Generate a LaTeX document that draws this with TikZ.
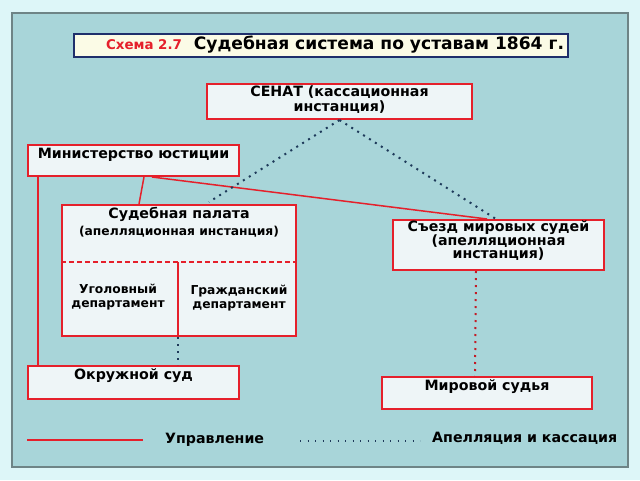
\documentclass[tikz,border=0pt]{standalone}
\usepackage{fontspec}
\setmainfont{DejaVu Sans}
\usetikzlibrary{calc}
\definecolor{outerbg}{HTML}{DDF6F8}
\definecolor{panel}{HTML}{A8D5D9}
\definecolor{panelline}{HTML}{6E8486}
\definecolor{redc}{HTML}{E5202B}
\definecolor{boxfill}{HTML}{EEF5F7}
\definecolor{titlefill}{HTML}{FBFBE6}
\definecolor{navy}{HTML}{1F2F6B}
\definecolor{dotc}{HTML}{1E3A5A}
\tikzset{
  box/.style={draw=redc, line width=2pt, fill=boxfill, inner sep=0pt, anchor=north west},
  lbl/.style={font=\bfseries\fontsize{14.2}{15.5}\selectfont, align=center, inner sep=0pt},
  slbl/.style={font=\bfseries\fontsize{12.3}{14}\selectfont, align=center, inner sep=0pt},
  ctrl/.style={draw=redc, line width=1.5pt},
  appeal/.style={draw=dotc, line width=2pt, dash pattern=on 2pt off 5pt},
  rappeal/.style={draw=redc!85!black, line width=2pt, dash pattern=on 2pt off 5pt},
}
\begin{document}
\begin{tikzpicture}[x=1pt,y=-1pt]
\useasboundingbox (0,0) rectangle (640,480);
\fill[outerbg] (0,0) rectangle (640,480);
\draw[panelline, fill=panel, line width=1.5pt] (12,13) rectangle (628,467);
% title
\node[draw=navy, line width=2pt, fill=titlefill, minimum width=494pt, minimum height=23pt, inner sep=0pt, anchor=north west] (title) at (73,33) {};
\node[inner sep=0pt, font=\bfseries\fontsize{17.1}{19}\selectfont] (titletext) at (335,44.5) {{\color{redc}\fontsize{13.4}{16}\selectfont Схема 2.7}\ \ Судебная система по уставам 1864 г.};
% boxes
\node[box, minimum width=265pt, minimum height=35pt] (senat) at (206,83) {};
\node[lbl] (senatt) at ($(senat.north)+(0,16.5)$) {СЕНАТ (кассационная\\инстанция)};
\node[box, minimum width=211pt, minimum height=31pt] (min) at (27,144) {};
\node[lbl] (mint) at ($(min.north)+(0,10.5)$) {Министерство юстиции};
\node[box, minimum width=234pt, minimum height=131pt] (palata) at (61,204) {};
\node[lbl] (palatat) at ($(palata.north)+(0,10.5)$) {Судебная палата};
\node[slbl] (palatat2) at ($(palata.north)+(0,27.5)$) {(апелляционная инстанция)};
\coordinate (dl) at ($(palata.north west)+(0,58)$);
\coordinate (dr) at ($(palata.north east)+(0,58)$);
\draw[redc, line width=1.5pt, dash pattern=on 5pt off 3pt] (dl) -- (dr);
\coordinate (divtop) at ($(palata.north west)+(117,58)$);
\coordinate (divbot) at ($(palata.south west)+(117,0)$);
\draw[ctrl] (divtop) -- (divbot);
\node[slbl] (ugol) at (118,297) {Уголовный\\департамент};
\node[slbl] (grazh) at (239,298.5) {Гражданский\\департамент};
\node[box, minimum width=211pt, minimum height=50pt] (sezd) at (392,219) {};
\node[lbl, font=\bfseries\fontsize{14.2}{13}\selectfont] (sezdt) at ($(sezd.north)+(0,21.5)$) {Съезд мировых судей\\(апелляционная\\инстанция)};
\node[box, minimum width=211pt, minimum height=33pt] (okr) at (27,365) {};
\node[lbl] (okrt) at ($(okr.north)+(0,11)$) {Окружной суд};
\node[box, minimum width=210pt, minimum height=32pt] (mir) at (381,376) {};
\node[lbl] (mirt) at ($(mir.north)+(0,11)$) {Мировой судья};
% control lines
\draw[ctrl] ($(min.south west)+(11,0)$) -- ($(okr.north west)+(11,0)$);
\draw[ctrl] ($(min.south west)+(117,0)$) -- ($(palata.north west)+(78,0)$);
\draw[ctrl] ($(min.south west)+(125,0)$) -- ($(sezd.north west)+(95,0)$);
% appeal lines
\coordinate (sb) at (senat.south);
\draw[appeal] (sb) -- ($(palata.north west)+(148,-2)$);
\draw[appeal] (sb) -- ($(sezd.north west)+(104,0)$);
\draw[appeal] (divbot) -- ($(okr.north west)+(151,0)$);
\draw[rappeal] ($(sezd.south west)+(84,0)$) -- ($(mir.north west)+(94,0)$);
% legend
\coordinate (l1a) at (27,440);
\coordinate (l1b) at (143,440);
\draw[ctrl] (l1a) -- (l1b);
\node[lbl, anchor=west] (leg1) at (165,440) {Управление};
\coordinate (l2a) at (300,441);
\coordinate (l2b) at (420,441);
\draw[dotc, line width=1.3pt, dash pattern=on 1.3pt off 6.2pt] (l2a) -- (l2b);
\node[lbl, anchor=west] (leg2) at (432,438) {Апелляция и кассация};
\end{tikzpicture}
\end{document}
